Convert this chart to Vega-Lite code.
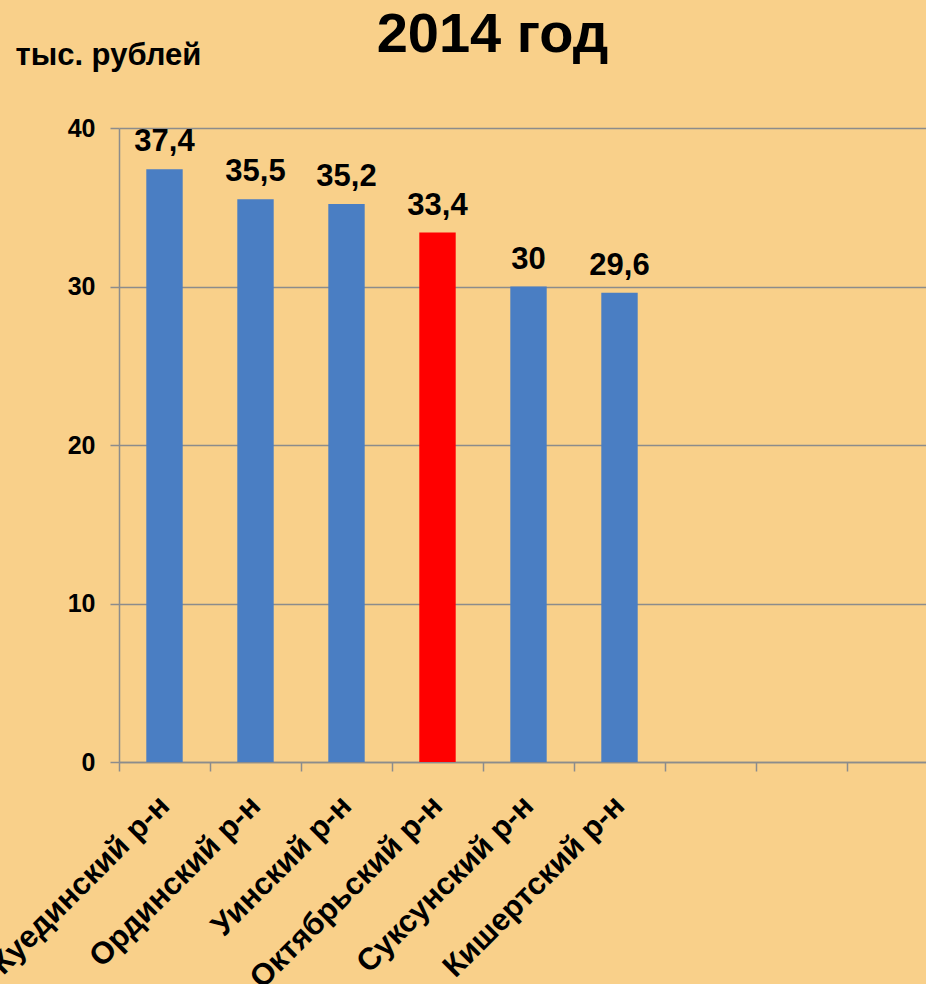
{
  "$schema": "https://vega.github.io/schema/vega-lite/v6.json",
  "autosize": {"type": "none"},
  "width": 819,
  "height": 634,
  "padding": {"left": 119, "top": 128, "right": 0, "bottom": 222},
  "background": "#F9D08A",
  "title": {
    "text": "2014 год",
    "font": "Liberation Sans",
    "fontSize": 56,
    "fontWeight": "bold",
    "color": "#000000",
    "anchor": "middle",
    "baseline": "alphabetic",
    "dx": -36,
    "offset": -69
  },
  "config": {
    "view": {"stroke": null},
    "font": "Liberation Sans"
  },
  "data": {
    "values": [
      {"district": "Куединский р-н", "value": 37.4, "label": "37,4", "hl": "no"},
      {"district": "Ординский р-н", "value": 35.5, "label": "35,5", "hl": "no"},
      {"district": "Уинский р-н", "value": 35.2, "label": "35,2", "hl": "no"},
      {"district": "Октябрьский р-н", "value": 33.4, "label": "33,4", "hl": "yes"},
      {"district": "Суксунский р-н", "value": 30, "label": "30", "hl": "no"},
      {"district": "Кишертский р-н", "value": 29.6, "label": "29,6", "hl": "no"}
    ]
  },
  "encoding": {
    "x": {
      "field": "district",
      "type": "nominal",
      "sort": null,
      "scale": {
        "domain": ["Куединский р-н", "Ординский р-н", "Уинский р-н", "Октябрьский р-н", "Суксунский р-н", "Кишертский р-н", " ", "  ", "   "],
        "paddingInner": 0,
        "paddingOuter": 0
      },
      "axis": {
        "title": null,
        "labelAngle": -45,
        "labelAlign": "right",
        "labelBaseline": "middle",
        "labelFont": "Liberation Sans",
        "labelFontSize": 31,
        "labelFontWeight": "bold",
        "labelColor": "#000000",
        "labelPadding": 30,
        "labelOverlap": false,
        "labelBound": false,
        "labelLimit": 0,
        "tickBand": "extent",
        "tickSize": 9,
        "tickColor": "#8C8C8C",
        "tickWidth": 1.5,
        "domainColor": "#8C8C8C",
        "domainWidth": 1.5,
        "grid": false
      }
    },
    "y": {
      "field": "value",
      "type": "quantitative",
      "scale": {"domain": [0, 40]},
      "axis": {
        "values": [0, 10, 20, 30, 40],
        "title": "тыс. рублей",
        "titleAngle": 0,
        "titleX": -104,
        "titleY": -64,
        "titleAlign": "left",
        "titleBaseline": "alphabetic",
        "titleFont": "Liberation Sans",
        "titleFontSize": 31,
        "titleFontWeight": "bold",
        "titleColor": "#000000",
        "labelFont": "Liberation Sans",
        "labelFontSize": 25,
        "labelFontWeight": "bold",
        "labelColor": "#000000",
        "labelPadding": 15,
        "tickSize": 9,
        "tickColor": "#8C8C8C",
        "tickWidth": 1.5,
        "domainColor": "#8C8C8C",
        "domainWidth": 1.5,
        "grid": true,
        "gridColor": "#8C8C8C",
        "gridWidth": 1.5
      }
    }
  },
  "layer": [
    {
      "mark": {"type": "bar", "width": {"band": 0.4}},
      "encoding": {
        "color": {
          "field": "hl",
          "type": "nominal",
          "scale": {"domain": ["no", "yes"], "range": ["#4A7EC3", "#FF0000"]},
          "legend": null
        }
      }
    },
    {
      "mark": {
        "type": "text",
        "baseline": "alphabetic",
        "dy": -18,
        "font": "Liberation Sans",
        "fontSize": 31,
        "fontWeight": "bold",
        "color": "#000000"
      },
      "encoding": {"text": {"field": "label"}}
    }
  ]
}
